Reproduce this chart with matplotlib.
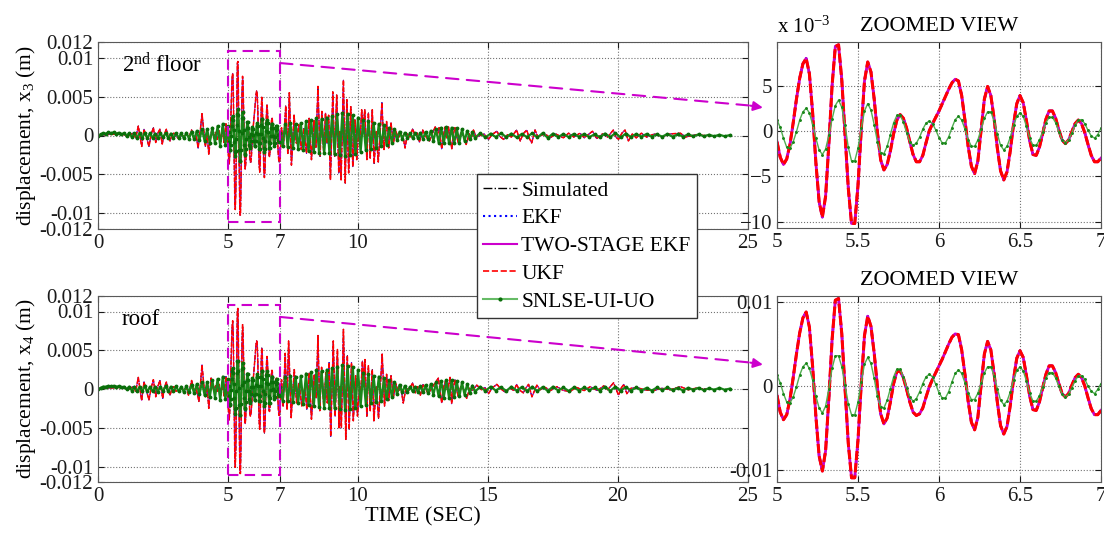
import numpy as np
import matplotlib
matplotlib.use("Agg")
import matplotlib.pyplot as plt
from matplotlib.lines import Line2D
from matplotlib.patches import Rectangle, ConnectionPatch

plt.rcParams['font.family'] = ['Liberation Serif', 'DejaVu Serif']
plt.rcParams['mathtext.fontset'] = 'custom'
plt.rcParams['mathtext.rm'] = 'Liberation Serif'
plt.rcParams['mathtext.it'] = 'Liberation Serif:italic'
plt.rcParams['font.size'] = 15

# all displacement values below are in units of 1e-3 m

# ---- 5 s to 7 s, sampled every 0.02 s (zoomed window) ----
x3_zoom = [-1.2, -2.9, -3.7, -3.1, -1.5, 0.9, 3.5, 5.8, 7.4, 8.0,
           6.3, 2.0, -3.5, -7.8, -9.5, -7.2, -1.5, 5.0, 9.3, 9.5,
           5.6, -0.4, -6.3, -10.2, -10.2, -6.0, 0.1, 5.5, 7.6, 6.5,
           3.5, -0.2, -3.2, -4.3, -3.7, -2.2, -0.3, 1.2, 1.8, 1.4,
           0.3, -1.2, -2.6, -3.4, -3.4, -2.7, -1.3, 0.0, 0.8, 1.5,
           2.2, 3.0, 3.8, 4.6, 5.3, 5.7, 5.5, 3.9, 1.2, -1.7,
           -3.9, -4.7, -3.3, 0.1, 3.5, 4.9, 3.9, 1.4, -1.9, -4.4,
           -5.4, -4.5, -2.2, 0.7, 3.0, 3.9, 3.1, 1.1, -1.1, -2.6,
           -2.7, -1.8, -0.3, 1.3, 2.2, 2.2, 1.4, 0.1, -1.0, -1.4,
           -1.0, -0.1, 0.8, 1.2, 0.8, -0.2, -1.5, -2.7, -3.4, -3.4,
           -3.0]
x3_zoom_snlse = [1.2, 0.4, -0.8, -1.8, -1.9, -1.2, -0.1, 1.2, 2.1, 2.5,
                 2.0, 0.7, -0.8, -2.1, -2.6, -2.0, -0.5, 1.3, 2.8, 3.4,
                 2.6, 0.6, -1.8, -3.3, -3.3, -1.9, 0.3, 2.2, 3.0, 2.3,
                 0.7, -1.2, -2.4, -2.5, -1.7, -0.4, 0.9, 1.7, 1.7, 1.0,
                 -0.2, -1.2, -1.6, -1.35, -0.7, 0.2, 0.85, 1.1, 0.8, 0.1,
                 -0.75, -1.3, -1.3, -0.65, 0.35, 1.25, 1.6, 1.2, 0.2, -0.95,
                 -1.7, -1.7, -1.0, 0.2, 1.4, 2.1, 2.1, 1.1, -0.3, -1.6,
                 -2.1, -1.7, -0.7, 0.6, 1.6, 2.0, 1.6, 0.5, -0.8, -1.6,
                 -1.6, -1.0, -0.1, 0.9, 1.5, 1.5, 0.9, -0.1, -1.0, -1.3,
                 -1.0, -0.2, 0.65, 1.2, 1.25, 0.8, 0.05, -0.55, -0.8, -0.4,
                 0.3]
x4_zoom = [-1.1, -3.1, -4.0, -3.4, -1.6, 1.0, 3.8, 6.3, 8.1, 8.8,
           7.0, 2.3, -3.6, -8.3, -10.1, -7.7, -1.5, 5.5, 10.2, 10.4,
           6.2, -0.3, -6.8, -10.9, -10.9, -6.4, 0.2, 6.0, 8.3, 7.1,
           3.9, -0.1, -3.3, -4.5, -3.8, -1.9, 0.3, 1.7, 1.8, 1.0,
           -0.4, -1.9, -3.1, -3.5, -3.3, -2.6, -1.3, -0.1, 0.8, 1.6,
           2.4, 3.2, 4.1, 5.0, 5.8, 6.2, 6.1, 4.3, 1.4, -1.8,
           -4.3, -5.2, -3.7, 0.1, 3.8, 5.3, 4.3, 1.5, -1.9, -4.7,
           -5.7, -4.8, -2.3, 0.8, 3.3, 4.2, 3.4, 1.2, -1.2, -2.8,
           -2.9, -1.9, -0.2, 1.4, 2.4, 2.4, 1.6, 0.3, -0.9, -1.3,
           -0.9, 0.1, 1.0, 1.4, 1.0, 0.0, -1.4, -2.7, -3.4, -3.4,
           -2.9]
x4_zoom_snlse = [1.3, 0.4, -0.9, -1.9, -2.0, -1.3, -0.1, 1.3, 2.3, 2.7,
                 2.1, 0.7, -1.2, -2.6, -3.2, -2.4, -0.3, 2.1, 3.6, 3.6,
                 2.3, 0.1, -2.1, -3.4, -3.4, -1.9, 0.5, 2.6, 3.4, 2.7,
                 0.9, -1.2, -2.5, -2.6, -1.7, -0.3, 1.1, 2.0, 2.0, 1.1,
                 -0.2, -1.3, -1.8, -1.5, -0.7, 0.3, 1.1, 1.4, 1.1, 0.2,
                 -0.8, -1.4, -1.4, -0.65, 0.5, 1.5, 1.9, 1.5, 0.4, -0.8,
                 -1.6, -1.6, -0.85, 0.35, 1.55, 2.3, 2.3, 1.25, -0.3, -1.7,
                 -2.2, -1.8, -0.7, 0.75, 1.85, 2.3, 1.8, 0.6, -0.85, -1.8,
                 -1.8, -1.15, -0.1, 0.95, 1.6, 1.6, 0.95, -0.05, -0.95, -1.3,
                 -1.0, -0.2, 0.65, 1.2, 1.25, 0.8, 0.0, -0.6, -0.9, -0.4,
                 0.3]

# ---- 0 s to 5 s, peaks and troughs ----
x3_pre_t = [0, 0.3, 0.8, 1.2, 1.35, 1.45, 1.55, 1.68, 1.77, 1.87,
            1.96, 2.05, 2.13, 2.22, 2.30, 2.38, 2.47, 2.55, 2.63, 2.70,
            2.77, 2.85, 2.92, 3.0, 3.1, 3.2, 3.3, 3.4, 3.5, 3.6,
            3.69, 3.77, 3.85, 3.93, 4.0, 4.07, 4.13, 4.2, 4.26, 4.32,
            4.38, 4.45, 4.52, 4.58, 4.66, 4.72, 4.78, 4.85, 4.92, 4.96]
x3_pre = [0, 0.1, 0.2, 0.0, 0.3, -0.3, 1.2, -1.4, 0.8, -0.3,
          -1.4, 0.2, 1.0, -0.9, 0.3, 0.8, -1.1, 0.2, 0.8, -0.2,
          -0.7, 0.1, 0.3, -0.1, -0.4, 0.1, -0.1, 0.2, -0.2, 0.7,
          -0.5, 0.2, -1.6, 0.5, 2.8, 0.5, -1.4, 0.3, -2.4, -0.5,
          0.8, -0.3, 0.4, -0.5, 0.6, -0.8, 1.0, -0.9, 1.5, 0.5]
x4_pre_t = [0, 0.3, 0.8, 1.2, 1.35, 1.45, 1.55, 1.68, 1.77, 1.87,
            1.96, 2.05, 2.13, 2.22, 2.30, 2.38, 2.49, 2.55, 2.63, 2.70,
            2.77, 2.85, 2.92, 3.0, 3.1, 3.2, 3.3, 3.4, 3.48, 3.6,
            3.69, 3.77, 3.88, 3.94, 4.0, 4.07, 4.13, 4.2, 4.26, 4.35,
            4.45, 4.52, 4.58, 4.66, 4.72, 4.78, 4.85, 4.92, 4.96]
x4_pre = [0, 0.1, 0.2, 0.0, 0.3, -0.3, 1.5, -1.5, 0.9, -0.3,
          -1.4, 0.2, 1.2, -1.0, 0.3, 1.1, -1.2, 0.2, 0.9, -0.2,
          -0.8, 0.1, 0.3, -0.3, -0.1, 0.1, -0.1, 0.2, -0.8, 1.1,
          -0.3, 0.2, -1.6, 0.6, 3.1, 0.5, -1.0, 0.3, -2.5, 1.4,
          -0.2, 0.4, -0.3, 0.6, -0.8, 0.9, -0.9, 1.6, 0.6]

# ---- 7 s onwards, peaks and troughs ----
x3_post_t = [7.06, 7.13, 7.22, 7.30, 7.36, 7.44, 7.54, 7.63, 7.72, 7.82,
             7.92, 8.02, 8.12, 8.21, 8.31, 8.38, 8.46, 8.54, 8.61, 8.68,
             8.75, 8.81, 8.87, 8.94, 9.03, 9.10, 9.18, 9.26, 9.30, 9.35,
             9.44, 9.51, 9.57, 9.64, 9.72, 9.80, 9.88, 9.95, 10.02, 10.08,
             10.14, 10.20, 10.26, 10.34, 10.40, 10.47, 10.55, 10.62, 10.70, 10.78,
             10.92, 11.00, 11.10, 11.18, 11.27, 11.36, 11.45, 11.55, 11.65, 11.75,
             11.81, 11.90, 12.00, 12.10, 12.20, 12.28, 12.36, 12.49, 12.60, 12.75,
             12.85, 12.97, 13.05, 13.12, 13.22, 13.30, 13.35, 13.42, 13.48, 13.55,
             13.61, 13.67, 13.73, 13.80, 13.86, 13.95, 14.05, 14.16, 14.28, 14.36,
             14.44, 14.55, 14.70, 14.85, 15.02, 15.15, 15.34, 15.45, 15.60, 15.75,
             15.90, 16.10, 16.24, 16.35, 16.49, 16.58, 16.68, 16.81, 16.92, 17.00,
             17.20, 17.39, 17.60, 17.90, 18.10, 18.30, 18.54, 18.70, 18.85, 19.02,
             19.18, 19.40, 19.60, 19.82, 19.92, 20.02, 20.15, 20.27, 20.40, 20.55,
             20.70, 20.90, 21.10, 21.40, 21.70, 22.00, 22.40, 22.60, 23.00, 23.30,
             23.60]
x3_post = [1.0, -1.6, 3.8, -2.3, 5.5, -3.8, 2.6, -1.0, 1.4, -1.8,
           0.9, -2.3, 2.2, -3.1, 2.0, -1.5, 6.3, -2.7, 3.1, -2.3,
           2.9, -1.0, 2.6, -5.7, 5.6, -2.7, 5.2, -4.8, 0.5, -5.7,
           7.1, -6.1, 4.6, -4.8, 3.7, -4.0, 2.0, -3.1, 0.5, -1.0,
           3.3, 1.0, 3.3, -3.1, 2.9, -2.9, 3.3, -3.6, 0.5, -3.4,
           4.2, -1.8, 1.8, -1.6, 1.6, -1.0, 0.6, -0.3, 0.2, -0.5,
           -1.6, 0.2, -0.2, 0.85, 0.0, 0.3, -0.85, 0.7, -0.1, -0.7,
           0.2, 1.1, 0.0, 1.0, -1.7, 0.2, 1.1, -0.3, 1.1, -0.6,
           -1.7, 0.2, 1.0, -0.2, -0.9, 0.3, 0.0, -1.15, 0.2, -0.3,
           0.7, -0.2, 0.0, 0.2, -0.5, 0.1, 0.55, -0.1, -0.5, 0.1,
           -0.2, 0.7, -0.7, 0.2, 0.7, -0.3, -0.95, 0.7, -0.2, 0.0,
           0.2, -0.3, 0.2, -0.3, 0.3, -0.2, 0.3, -0.3, 0.1, 0.55,
           -0.4, 0.2, -0.2, 0.7, -0.2, -0.5, 0.3, 0.7, -0.7, 0.2,
           -0.3, 0.3, -0.2, 0.2, -0.2, 0.2, 0.3, -0.2, 0.1, 0.0,
           0.0]
x4_post_t = [7.06, 7.12, 7.20, 7.27, 7.33, 7.43, 7.55, 7.64, 7.73, 7.84,
             7.96, 8.03, 8.12, 8.21, 8.32, 8.39, 8.46, 8.53, 8.60, 8.69,
             8.76, 8.82, 8.89, 8.95, 9.05, 9.12, 9.21, 9.27, 9.31, 9.36,
             9.44, 9.53, 9.59, 9.66, 9.75, 9.82, 9.91, 9.98, 10.06, 10.10,
             10.17, 10.22, 10.27, 10.34, 10.40, 10.47, 10.55, 10.61, 10.70, 10.79,
             10.93, 11.02, 11.10, 11.18, 11.27, 11.36, 11.45, 11.55, 11.65, 11.74,
             11.85, 11.95, 12.10, 12.20, 12.30, 12.40, 12.50, 12.60, 12.70, 12.85,
             12.97, 13.09, 13.15, 13.22, 13.30, 13.38, 13.45, 13.54, 13.60, 13.67,
             13.73, 13.80, 13.86, 13.95, 14.05, 14.18, 14.30, 14.40, 14.57, 14.75,
             14.88, 15.02, 15.15, 15.34, 15.50, 15.66, 15.85, 16.00, 16.10, 16.20,
             16.36, 16.45, 16.56, 16.69, 16.88, 17.00, 17.20, 17.40, 17.65, 17.90,
             18.16, 18.40, 18.70, 18.93, 19.20, 19.45, 19.60, 19.83, 20.02, 20.12,
             20.22, 20.34, 20.50, 20.73, 21.00, 21.37, 21.70, 22.00, 22.40, 22.70,
             23.00, 23.30, 23.60]
x4_post = [1.2, -2.2, 4.6, -2.6, 6.2, -3.7, 2.5, -1.8, 0.8, -2.2,
           0.4, -2.6, 2.1, -3.9, 1.9, -1.2, 6.9, -2.8, 2.8, -2.6,
           2.1, -1.8, 3.4, -6.1, 6.2, -3.5, 5.1, -5.0, 0.3, -5.0,
           7.7, -6.5, 4.3, -5.2, 3.4, -4.1, 1.7, -3.5, 0.2, -0.8,
           3.6, 1.2, 3.8, -3.5, 3.0, -2.8, 2.5, -4.1, 0.3, -3.8,
           4.5, -2.2, 1.9, -1.5, 1.7, -1.1, 0.7, -0.3, 0.2, -1.8,
           0.2, -0.2, 0.8, -0.5, 0.3, -0.8, 0.6, 0.0, -0.6, 0.2,
           0.8, 1.4, 0.0, -1.8, 0.3, 1.2, -0.2, 1.5, -1.9, 0.2,
           1.2, -0.2, -1.0, 0.3, 0.0, -1.2, 0.1, -0.2, 0.5, -0.1,
           0.2, -0.6, 0.1, 0.6, 0.0, -0.4, 0.1, -0.2, 0.6, -0.1,
           -0.5, 0.1, 0.6, -1.0, 0.5, -0.1, 0.2, -0.2, 0.3, -0.2,
           -0.3, 0.2, -0.2, 0.3, -0.2, 0.4, -0.1, 0.8, -0.8, 0.1,
           0.6, -0.6, 0.1, 0.2, -0.1, -0.2, 0.1, -0.1, 0.3, -0.1,
           0.1, 0.0, 0.0]

# ---- SNLSE-UI-UO estimate outside the zoomed window ----
# 0 .. 4.9 s every 0.1 s
x3_snlse_pre = [0.0, 0.15, 0.3, 0.25, 0.4, 0.3, 0.4, 0.25, 0.35, 0.15,
                0.3, 0.0, 0.3, -0.2, 0.3, -0.3, 0.3, -0.3, 0.3, -0.3,
                0.3, -0.3, 0.25, -0.3, 0.3, -0.25, 0.3, -0.3, 0.25, -0.3,
                0.3, -0.3, 0.3, -0.35, 0.35, -0.4, 0.5, -0.5, 0.6, -0.6,
                0.8, -0.7, 0.8, -0.9, 1.0, -1.0, 1.2, -1.3, 1.5, -1.2]
x4_snlse_pre = [0.0, 0.15, 0.3, 0.3, 0.4, 0.35, 0.4, 0.3, 0.35, 0.2,
                0.3, 0.0, 0.3, -0.2, 0.3, -0.3, 0.3, -0.3, 0.35, -0.3,
                0.3, -0.3, 0.3, -0.35, 0.3, -0.3, 0.35, -0.3, 0.3, -0.3,
                0.35, -0.3, 0.3, -0.4, 0.4, -0.45, 0.55, -0.55, 0.65, -0.7,
                0.85, -0.8, 0.9, -1.0, 1.1, -1.1, 1.3, -1.4, 1.6, -1.3]
# 7.1 .. 14.5 s every 0.1 s
x3_snlse_post = [-1.4, 1.5, -1.5, 1.6, -1.6, 1.5, -1.7, 1.6, -1.8, 1.8,
                 -2.0, 2.0, -2.1, 2.2, -2.2, 2.1, -2.3, 2.3, -2.2, 2.5,
                 -2.4, 2.7, -2.5, 2.9, -2.6, 2.8, -2.5, 2.6, -2.4, 2.3,
                 -2.1, 2.0, -1.9, 1.8, -1.7, 1.6, -1.6, 1.5, -1.4, 1.3,
                 -1.2, 1.0, -0.9, 0.8, -0.6, 0.5, -0.4, 0.35, -0.3, 0.3,
                 -0.3, 0.3, -0.3, 0.35, -0.4, 0.45, -0.5, 0.6, -0.7, 0.8,
                 -0.9, 1.0, -1.0, 1.1, -1.0, 1.0, -1.0, 0.9, -0.9, 0.8,
                 -0.7, 0.6, -0.5, 0.4, -0.3]
x4_snlse_post = [-1.5, 1.6, -1.6, 1.7, -1.7, 1.6, -1.8, 1.7, -1.9, 2.0,
                 -2.1, 2.2, -2.2, 2.4, -2.3, 2.3, -2.4, 2.5, -2.4, 2.7,
                 -2.5, 2.9, -2.6, 3.1, -2.7, 3.0, -2.6, 2.8, -2.5, 2.5,
                 -2.2, 2.1, -2.0, 1.9, -1.8, 1.7, -1.7, 1.6, -1.5, 1.4,
                 -1.3, 1.1, -1.0, 0.9, -0.7, 0.55, -0.45, 0.4, -0.35, 0.3,
                 -0.3, 0.3, -0.35, 0.4, -0.45, 0.5, -0.55, 0.65, -0.75, 0.85,
                 -0.95, 1.05, -1.1, 1.15, -1.1, 1.1, -1.05, 1.0, -0.95, 0.85,
                 -0.75, 0.65, -0.55, 0.45, -0.35]
# 14.7 .. 24.3 s every 0.2 s
x3_snlse_tail = [0.3, -0.25, 0.25, -0.2, 0.3, -0.2, 0.25, -0.25, 0.2, -0.2,
                 0.3, -0.25, 0.3, -0.3, 0.25, -0.2, 0.2, -0.2, 0.2, -0.15,
                 0.2, -0.2, 0.15, -0.2, 0.25, -0.2, 0.3, -0.25, 0.25, -0.2,
                 0.2, -0.15, 0.2, -0.15, 0.15, -0.15, 0.2, -0.15, 0.15, -0.15,
                 0.15, -0.1, 0.15, -0.1, 0.1, -0.1, 0.1, -0.1, 0.05]
x4_snlse_tail = [0.3, -0.25, 0.3, -0.2, 0.25, -0.25, 0.3, -0.2, 0.25, -0.25,
                 0.3, -0.3, 0.25, -0.25, 0.3, -0.2, 0.2, -0.25, 0.2, -0.2,
                 0.2, -0.15, 0.2, -0.2, 0.3, -0.25, 0.3, -0.2, 0.25, -0.2,
                 0.2, -0.2, 0.15, -0.2, 0.2, -0.15, 0.2, -0.15, 0.15, -0.2,
                 0.15, -0.1, 0.15, -0.15, 0.1, -0.1, 0.15, -0.1, 0.05]

legend_labels = ['Simulated', 'EKF', 'TWO-STAGE EKF', 'UKF', 'SNLSE-UI-UO']
floor_names = ['2$^{\\rm nd}$ floor', 'roof']
ylabels = ['displacement, x$_3$ (m)', 'displacement, x$_4$ (m)']

GREEN = '#1a871a'
LIGHTGREEN = '#52ad52'
DARKGREEN = '#0a6e0a'
MAG = '#cc00cc'

t_zoom = np.linspace(5, 7, len(x3_zoom))


def build(pre_t, pre, zoom, post_t, post, g_pre, g_zoom, g_post, g_tail):
    t = np.concatenate([pre_t, t_zoom, post_t])
    v = np.concatenate([pre, zoom, post]) * 1e-3
    tg = np.concatenate([np.linspace(0, 4.9, len(g_pre)), t_zoom,
                         np.linspace(7.1, 14.5, len(g_post)),
                         np.linspace(14.7, 24.3, len(g_tail))])
    vg = np.concatenate([g_pre, g_zoom, g_post, g_tail]) * 1e-3
    return t, v, tg, vg


def draw_main(ax, t, v, tg, vg):
    ax.plot(t, v, color='k', ls='-.', lw=0.7)
    ax.plot(t, v, color='b', ls=':', lw=0.8)
    ax.plot(t, v, color=MAG, ls='-', lw=0.5)
    ax.plot(t, v, color='r', ls='--', lw=1.1, dashes=(3, 1))
    ax.plot(tg, vg, color=GREEN, lw=1.6, marker='.', ms=3.5,
            mfc=DARKGREEN, mec=DARKGREEN)


def draw_zoom(ax, t, v, tg, vg):
    ax.plot(t, v, color='k', ls='-.', lw=1.2)
    ax.plot(t, v, color='b', ls=':', lw=1.8)
    ax.plot(t, v, color=MAG, ls='-', lw=2.0)
    ax.plot(t, v, color='r', ls='--', lw=2.2, dashes=(3, 1))
    ax.plot(tg, vg, color=LIGHTGREEN, lw=1.0, marker='.', ms=2.2,
            mfc=GREEN, mec=GREEN)


def style(ax):
    ax.tick_params(direction='in', top=True, right=True, length=4,
                   labelsize=15, colors='0.1')
    for sp in ax.spines.values():
        sp.set_color('0.35')
    ax.grid(True, ls=':', color='0.45', lw=0.8)


fig = plt.figure(figsize=(11.04, 5.33), dpi=100)
W, H = 1104, 533


def add_ax(x0, y0, x1, y1):
    return fig.add_axes([x0 / W, 1 - y1 / H, (x1 - x0) / W, (y1 - y0) / H])


ax_main = [add_ax(98, 42, 748, 229), add_ax(98, 296, 748, 482)]
ax_zoom = [add_ax(777, 42, 1101, 228), add_ax(777, 296, 1101, 482)]

series = [build(x3_pre_t, x3_pre, x3_zoom, x3_post_t, x3_post,
                x3_snlse_pre, x3_zoom_snlse, x3_snlse_post, x3_snlse_tail),
          build(x4_pre_t, x4_pre, x4_zoom, x4_post_t, x4_post,
                x4_snlse_pre, x4_zoom_snlse, x4_snlse_post, x4_snlse_tail)]
zooms = [(x3_zoom, x3_zoom_snlse), (x4_zoom, x4_zoom_snlse)]
arrow_end_y = [0.645, 0.629]

for i in range(2):
    ax = ax_main[i]
    t, v, tg, vg = series[i]
    draw_main(ax, t, v, tg, vg)
    ax.set_xlim(0, 25)
    ax.set_ylim(-0.012, 0.012)
    ax.set_xticks([0, 5, 7, 10, 15, 20, 25])
    ax.set_yticks([-0.012, -0.01, -0.005, 0, 0.005, 0.01, 0.012])
    ax.set_yticklabels(['-0.012', '-0.01', '-0.005', '0', '0.005', '0.01', '0.012'])
    style(ax)
    ax.set_ylabel(ylabels[i], fontsize=15.5, labelpad=1)
    ax.text(0.037, 0.875, floor_names[i], transform=ax.transAxes,
            fontsize=16.5, va='center', ha='left')
    ax.add_patch(Rectangle((5, -0.0111), 2, 0.022, fill=False, ec=MAG,
                           ls=(0, (5, 3)), lw=1.5, zorder=5))

    # zoomed view
    az = ax_zoom[i]
    zr, zg = zooms[i]
    if i == 0:
        draw_zoom(az, t_zoom, np.array(zr), t_zoom, np.array(zg))
        az.set_ylim(-10.7, 9.8)
        az.set_yticks([-10, -5, 0, 5])
        az.text(0.0, 1.02, 'x 10$^{-3}$', transform=az.transAxes,
                fontsize=15, ha='left', va='bottom')
    else:
        draw_zoom(az, t_zoom, np.array(zr) * 1e-3, t_zoom, np.array(zg) * 1e-3)
        az.set_ylim(-0.0114, 0.0107)
        az.set_yticks([-0.01, 0, 0.01])
        az.set_yticklabels(['-0.01', '0', '0.01'])
    az.set_xlim(5, 7)
    az.set_xticks([5, 5.5, 6, 6.5, 7])
    az.set_xticklabels(['5', '5.5', '6', '6.5', '7'])
    style(az)
    az.set_title('ZOOMED VIEW', fontsize=16, pad=8)

    # dashed connector with arrow head
    con = ConnectionPatch(xyA=(7, 0.0093), coordsA='data', axesA=ax,
                          xyB=(-0.075, arrow_end_y[i] + 0.012),
                          coordsB='axes fraction', axesB=az,
                          color=MAG, lw=1.5, ls=(0, (6, 4)))
    fig.add_artist(con)
    az.annotate('', xy=(-0.035, arrow_end_y[i]), xycoords='axes fraction',
                xytext=(-0.09, arrow_end_y[i] + 0.015),
                textcoords='axes fraction',
                arrowprops=dict(arrowstyle='-|>', color=MAG, lw=1.5,
                                mutation_scale=14),
                annotation_clip=False)

ax_main[1].set_xlabel('TIME (SEC)', fontsize=16, labelpad=1)

handles = [Line2D([], [], color='k', ls='-.', lw=1),
           Line2D([], [], color='b', ls=':', lw=1.5),
           Line2D([], [], color=MAG, ls='-', lw=1.5),
           Line2D([], [], color='r', ls='--', lw=1.2),
           Line2D([], [], color='#66bb66', ls='-', lw=1.5, marker='.',
                  ms=4, mfc=DARKGREEN, mec=DARKGREEN)]
fig.legend(handles, legend_labels, loc='upper left',
           bbox_to_anchor=(477 / W, 1 - 174 / H), fontsize=15.5,
           frameon=True, fancybox=False, framealpha=1, edgecolor='0.2',
           handlelength=1.55, handletextpad=0.2, labelspacing=0.36,
           borderpad=0.3, borderaxespad=0, numpoints=1)

fig.savefig('out.png', dpi=100)
